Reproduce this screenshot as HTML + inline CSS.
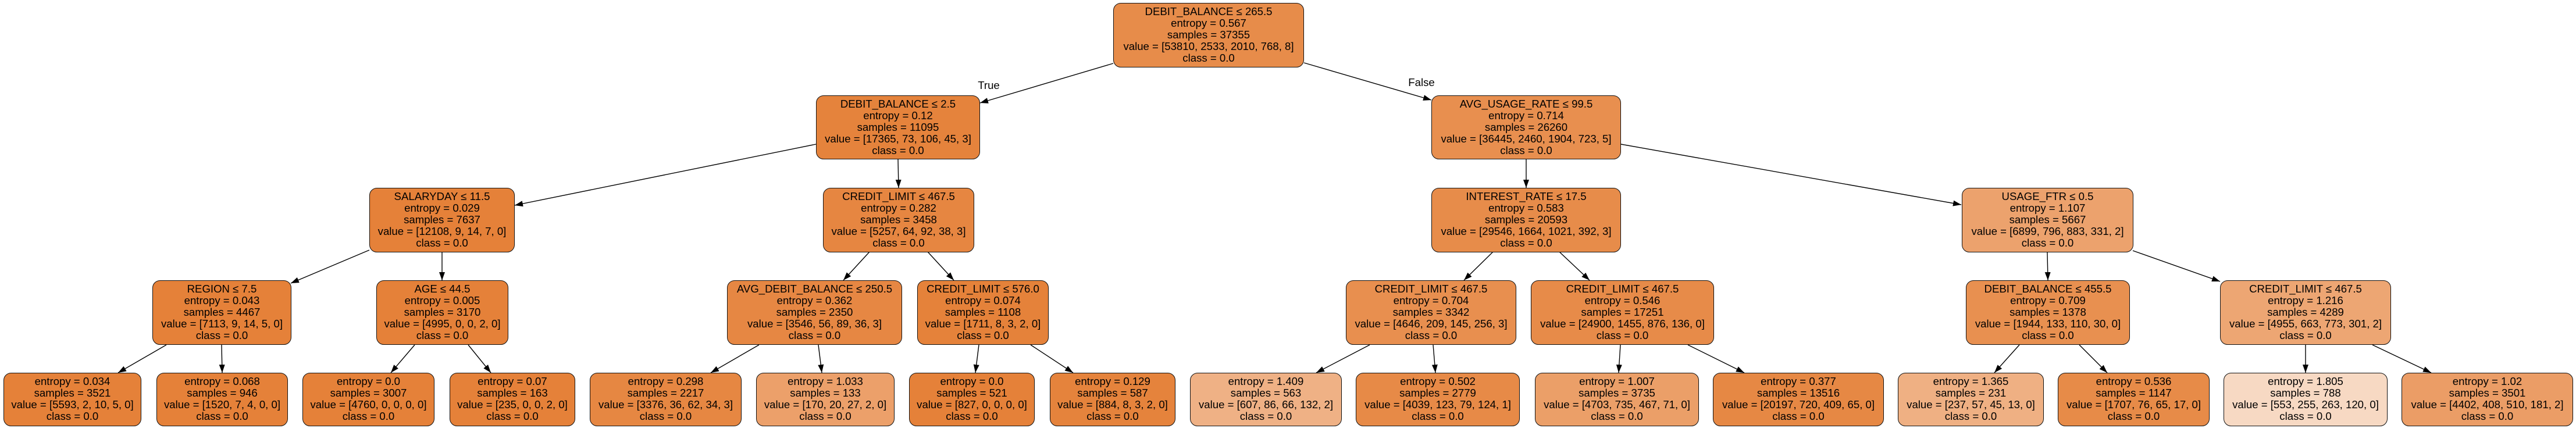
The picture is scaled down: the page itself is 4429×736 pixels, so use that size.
<!DOCTYPE html>
<html><head><meta charset="utf-8">
<style>
html,body{margin:0;padding:0;background:#fff;}
body{width:4429px;height:736px;position:relative;overflow:hidden;font-family:"Liberation Sans",Arial,sans-serif;}
.n{position:absolute;box-sizing:border-box;border:1.5px solid #111;border-radius:13px;text-align:center;font-size:18.6px;line-height:20px;padding-top:4px;color:#000;white-space:nowrap;}
.i{top:5px;height:111px;}
.l1{top:164px;height:110px;}
.l2{top:323px;height:111px;}
.l3{top:482px;height:111px;}
.lf{top:641px;height:92px;}
.lbl{position:absolute;font-size:18.6px;line-height:20px;transform:translate(-50%,-50%);}
svg{position:absolute;left:0;top:0;}
</style></head><body>
<svg width="4429" height="736">
<defs><marker id="a" markerWidth="14" markerHeight="10" refX="14" refY="5" orient="auto" markerUnits="userSpaceOnUse"><path d="M0,0 L14,5 L0,10 z" fill="#000"/></marker></defs>
<g stroke="#000" stroke-width="1.4" marker-end="url(#a)">
<line x1="1914" y1="109" x2="1685" y2="177"/>
<line x1="2242" y1="108" x2="2461" y2="172"/>
<line x1="1403" y1="248" x2="885" y2="353"/>
<line x1="1544" y1="274" x2="1545" y2="323"/>
<line x1="2624" y1="274" x2="2624" y2="323"/>
<line x1="2787" y1="248" x2="3372" y2="352"/>
<line x1="635" y1="430" x2="500" y2="487"/>
<line x1="760" y1="434" x2="760" y2="482"/>
<line x1="1495" y1="433" x2="1450" y2="482"/>
<line x1="1595" y1="433" x2="1640" y2="482"/>
<line x1="2567" y1="433" x2="2517" y2="482"/>
<line x1="2681" y1="433" x2="2733" y2="482"/>
<line x1="3520" y1="434" x2="3521" y2="482"/>
<line x1="3667" y1="431" x2="3817" y2="484"/>
<line x1="286" y1="593" x2="203" y2="641"/>
<line x1="381" y1="593" x2="382" y2="641"/>
<line x1="713" y1="593" x2="672" y2="641"/>
<line x1="805" y1="593" x2="844" y2="641"/>
<line x1="1305" y1="593" x2="1222" y2="641"/>
<line x1="1407" y1="593" x2="1413" y2="641"/>
<line x1="1683" y1="593" x2="1677" y2="641"/>
<line x1="1772" y1="593" x2="1845" y2="641"/>
<line x1="2355" y1="593" x2="2263" y2="641"/>
<line x1="2464" y1="593" x2="2468" y2="641"/>
<line x1="2786" y1="593" x2="2783" y2="641"/>
<line x1="2902" y1="593" x2="2999" y2="641"/>
<line x1="3472" y1="593" x2="3429" y2="641"/>
<line x1="3575" y1="593" x2="3623" y2="641"/>
<line x1="3964" y1="593" x2="3964" y2="641"/>
<line x1="4079" y1="593" x2="4180" y2="641"/>
</g>
</svg>
<div class="lbl" style="left:1700px;top:147px">True</div>
<div class="lbl" style="left:2444px;top:142px">False</div>

<div class="n i" style="left:1914px;width:328px;background:#e78c4a">DEBIT_BALANCE ≤ 265.5<br>entropy = 0.567<br>samples = 37355<br>value = [53810, 2533, 2010, 768, 8]<br>class = 0.0</div>

<div class="n l1" style="left:1403px;width:282px;background:#e5833c">DEBIT_BALANCE ≤ 2.5<br>entropy = 0.12<br>samples = 11095<br>value = [17365, 73, 106, 45, 3]<br>class = 0.0</div>
<div class="n l1" style="left:2461px;width:326px;background:#e88f4f">AVG_USAGE_RATE ≤ 99.5<br>entropy = 0.714<br>samples = 26260<br>value = [36445, 2460, 1904, 723, 5]<br>class = 0.0</div>

<div class="n l2" style="left:635px;width:250px;background:#e58139">SALARYDAY ≤ 11.5<br>entropy = 0.029<br>samples = 7637<br>value = [12108, 9, 14, 7, 0]<br>class = 0.0</div>
<div class="n l2" style="left:1415px;width:260px;background:#e68641">CREDIT_LIMIT ≤ 467.5<br>entropy = 0.282<br>samples = 3458<br>value = [5257, 64, 92, 38, 3]<br>class = 0.0</div>
<div class="n l2" style="left:2461px;width:326px;background:#e78c4a">INTEREST_RATE ≤ 17.5<br>entropy = 0.583<br>samples = 20593<br>value = [29546, 1664, 1021, 392, 3]<br>class = 0.0</div>
<div class="n l2" style="left:3373px;width:295px;background:#eca26d">USAGE_FTR ≤ 0.5<br>entropy = 1.107<br>samples = 5667<br>value = [6899, 796, 883, 331, 2]<br>class = 0.0</div>

<div class="n l3" style="left:262px;width:239px;background:#e58139">REGION ≤ 7.5<br>entropy = 0.043<br>samples = 4467<br>value = [7113, 9, 14, 5, 0]<br>class = 0.0</div>
<div class="n l3" style="left:647px;width:227px;background:#e58139">AGE ≤ 44.5<br>entropy = 0.005<br>samples = 3170<br>value = [4995, 0, 0, 2, 0]<br>class = 0.0</div>
<div class="n l3" style="left:1250px;width:301px;background:#e68743">AVG_DEBIT_BALANCE ≤ 250.5<br>entropy = 0.362<br>samples = 2350<br>value = [3546, 56, 89, 36, 3]<br>class = 0.0</div>
<div class="n l3" style="left:1577px;width:226px;background:#e5823a">CREDIT_LIMIT ≤ 576.0<br>entropy = 0.074<br>samples = 1108<br>value = [1711, 8, 3, 2, 0]<br>class = 0.0</div>
<div class="n l3" style="left:2314px;width:293px;background:#e88f4f">CREDIT_LIMIT ≤ 467.5<br>entropy = 0.704<br>samples = 3342<br>value = [4646, 209, 145, 256, 3]<br>class = 0.0</div>
<div class="n l3" style="left:2632px;width:315px;background:#e78b49">CREDIT_LIMIT ≤ 467.5<br>entropy = 0.546<br>samples = 17251<br>value = [24900, 1455, 876, 136, 0]<br>class = 0.0</div>
<div class="n l3" style="left:3380px;width:282px;background:#e89050">DEBIT_BALANCE ≤ 455.5<br>entropy = 0.709<br>samples = 1378<br>value = [1944, 133, 110, 30, 0]<br>class = 0.0</div>
<div class="n l3" style="left:3817px;width:294px;background:#eda673">CREDIT_LIMIT ≤ 467.5<br>entropy = 1.216<br>samples = 4289<br>value = [4955, 663, 773, 301, 2]<br>class = 0.0</div>

<div class="n lf" style="left:6px;width:237px;background:#e58139">entropy = 0.034<br>samples = 3521<br>value = [5593, 2, 10, 5, 0]<br>class = 0.0</div>
<div class="n lf" style="left:269px;width:226px;background:#e58139">entropy = 0.068<br>samples = 946<br>value = [1520, 7, 4, 0, 0]<br>class = 0.0</div>
<div class="n lf" style="left:520px;width:227px;background:#e58139">entropy = 0.0<br>samples = 3007<br>value = [4760, 0, 0, 0, 0]<br>class = 0.0</div>
<div class="n lf" style="left:773px;width:216px;background:#e58139">entropy = 0.07<br>samples = 163<br>value = [235, 0, 0, 2, 0]<br>class = 0.0</div>
<div class="n lf" style="left:1014px;width:261px;background:#e68742">entropy = 0.298<br>samples = 2217<br>value = [3376, 36, 62, 34, 3]<br>class = 0.0</div>
<div class="n lf" style="left:1300px;width:238px;background:#eca06a">entropy = 1.033<br>samples = 133<br>value = [170, 20, 27, 2, 0]<br>class = 0.0</div>
<div class="n lf" style="left:1563px;width:216px;background:#e58139">entropy = 0.0<br>samples = 521<br>value = [827, 0, 0, 0, 0]<br>class = 0.0</div>
<div class="n lf" style="left:1805px;width:216px;background:#e5833c">entropy = 0.129<br>samples = 587<br>value = [884, 8, 3, 2, 0]<br>class = 0.0</div>
<div class="n lf" style="left:2046px;width:261px;background:#efb185">entropy = 1.409<br>samples = 563<br>value = [607, 86, 66, 132, 2]<br>class = 0.0</div>
<div class="n lf" style="left:2331px;width:282px;background:#e78a47">entropy = 0.502<br>samples = 2779<br>value = [4039, 123, 79, 124, 1]<br>class = 0.0</div>
<div class="n lf" style="left:2639px;width:282px;background:#eb9f68">entropy = 1.007<br>samples = 3735<br>value = [4703, 735, 467, 71, 0]<br>class = 0.0</div>
<div class="n lf" style="left:2945px;width:294px;background:#e68844">entropy = 0.377<br>samples = 13516<br>value = [20197, 720, 409, 65, 0]<br>class = 0.0</div>
<div class="n lf" style="left:3263px;width:251px;background:#efb083">entropy = 1.365<br>samples = 231<br>value = [237, 57, 45, 13, 0]<br>class = 0.0</div>
<div class="n lf" style="left:3538px;width:261px;background:#e78b48">entropy = 0.536<br>samples = 1147<br>value = [1707, 76, 65, 17, 0]<br>class = 0.0</div>
<div class="n lf" style="left:3823px;width:282px;background:#f7d9c3">entropy = 1.805<br>samples = 788<br>value = [553, 255, 263, 120, 0]<br>class = 0.0</div>
<div class="n lf" style="left:4129px;width:295px;background:#eb9d66">entropy = 1.02<br>samples = 3501<br>value = [4402, 408, 510, 181, 2]<br>class = 0.0</div>
</body></html>
